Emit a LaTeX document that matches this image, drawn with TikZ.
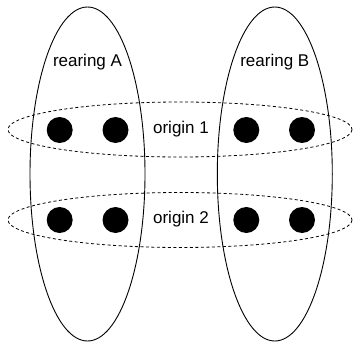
\documentclass[tikz,border=0pt]{standalone}
\usepackage{fontspec}
\setmainfont{Liberation Sans}
\begin{document}
\begin{tikzpicture}[x=1pt,y=-1pt,
  rearing/.style={draw=black,line width=0.9pt},
  origin/.style={draw=black,line width=0.8pt,dash pattern=on 3pt off 2.5pt},
  dotnode/.style={circle,fill=black,minimum size=26pt,inner sep=0pt},
  lbl/.style={font=\fontsize{17}{20}\selectfont,inner sep=0pt}]
\useasboundingbox (0,0) rectangle (354,343);
\draw[rearing] (87.5,174) ellipse [x radius=57.5, y radius=167];
\draw[rearing] (274.8,174) ellipse [x radius=57.5, y radius=167];
\draw[origin] (180,129.5) ellipse [x radius=172, y radius=27.5];
\draw[origin] (180,220) ellipse [x radius=172, y radius=27.5];
\node[dotnode] (a1) at (59.7,130) {};
\node[dotnode] (a2) at (115.5,130) {};
\node[dotnode] (b1) at (246.3,130) {};
\node[dotnode] (b2) at (302,130) {};
\node[dotnode] (a3) at (59.7,220) {};
\node[dotnode] (a4) at (115.5,220) {};
\node[dotnode] (b3) at (246.3,220) {};
\node[dotnode] (b4) at (302,220) {};
\node[lbl] (ra) at (87.5,62) {rearing A};
\node[lbl] (rb) at (274.8,62) {rearing B};
\node[lbl] (o1) at (181,129) {origin 1};
\node[lbl] (o2) at (181,219) {origin 2};
\end{tikzpicture}
\end{document}
